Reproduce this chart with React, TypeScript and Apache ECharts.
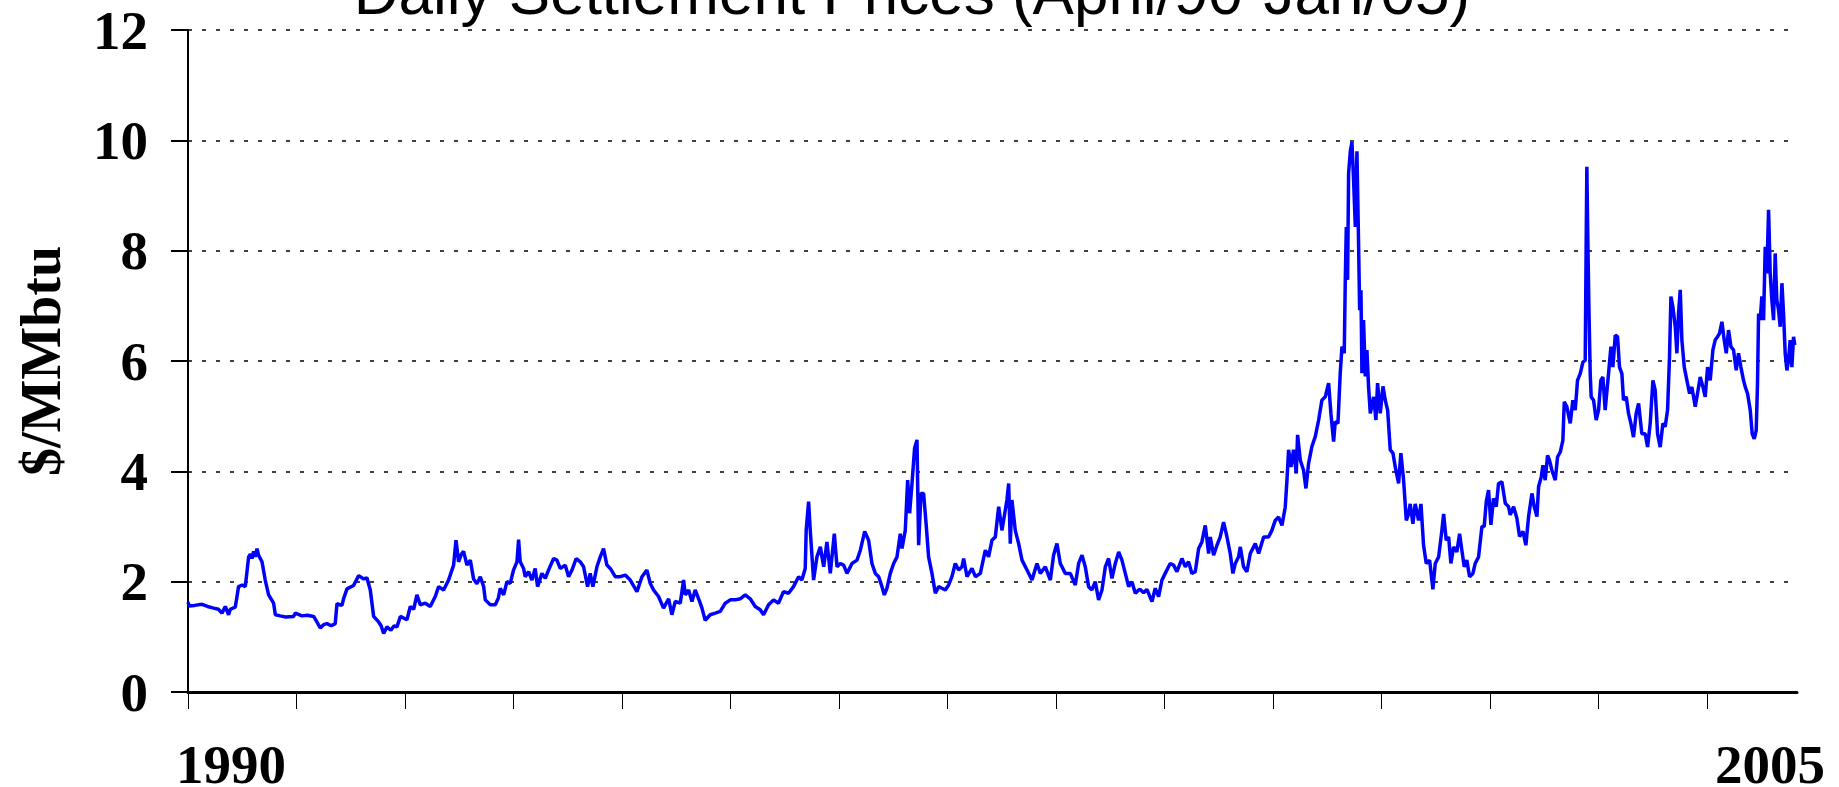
import React, { useEffect, useRef } from "react";
import * as echarts from "echarts";

// x = years since April 1990, y = $/MMbtu
const prices1990to1993: [number, number][] = [
  [0, 1.63], [0.012, 1.56], [0.06, 1.57], [0.129, 1.59], [0.18, 1.55], [0.236, 1.52], [0.28, 1.5],
  [0.313, 1.43], [0.344, 1.55], [0.374, 1.4], [0.39, 1.5], [0.436, 1.54], [0.466, 1.91], [0.5, 1.94],
  [0.528, 1.91], [0.559, 2.45], [0.575, 2.5], [0.59, 2.42], [0.605, 2.55], [0.62, 2.45], [0.636, 2.6],
  [0.65, 2.48], [0.682, 2.36], [0.712, 2.03], [0.743, 1.76], [0.789, 1.61], [0.805, 1.4], [0.85, 1.38],
  [0.9, 1.36], [0.973, 1.37], [0.989, 1.43], [1.05, 1.38], [1.1, 1.39], [1.158, 1.37], [1.188, 1.27],
  [1.219, 1.16], [1.25, 1.22], [1.28, 1.24], [1.32, 1.2], [1.357, 1.24], [1.373, 1.6], [1.419, 1.57],
  [1.434, 1.69], [1.465, 1.87], [1.526, 1.93], [1.573, 2.11], [1.62, 2.05], [1.649, 2.07], [1.68, 1.85],
  [1.711, 1.37], [1.757, 1.27], [1.78, 1.2], [1.803, 1.06], [1.834, 1.18], [1.87, 1.12], [1.9, 1.2],
  [1.926, 1.18], [1.957, 1.37], [2.018, 1.31], [2.049, 1.55], [2.08, 1.5], [2.11, 1.76], [2.141, 1.58],
  [2.187, 1.61], [2.233, 1.55], [2.279, 1.73], [2.31, 1.91], [2.356, 1.85], [2.402, 2.03], [2.448, 2.3],
  [2.47, 2.75], [2.494, 2.36], [2.52, 2.5], [2.54, 2.55], [2.571, 2.3], [2.602, 2.39], [2.632, 2.05],
  [2.663, 1.96], [2.694, 2.09], [2.725, 1.91], [2.74, 1.67], [2.786, 1.58], [2.832, 1.58], [2.86, 1.7],
];

const prices1993to1996: [number, number][] = [
  [2.878, 1.88], [2.909, 1.76], [2.94, 2.0], [2.97, 1.97], [3.0, 2.21], [3.032, 2.36], [3.047, 2.76],
  [3.062, 2.36], [3.093, 2.24], [3.108, 2.09], [3.139, 2.18], [3.17, 2.03], [3.2, 2.24], [3.222, 1.91],
  [3.262, 2.15], [3.293, 2.06], [3.323, 2.21], [3.37, 2.42], [3.4, 2.39], [3.431, 2.24], [3.477, 2.3],
  [3.508, 2.09], [3.539, 2.21], [3.578, 2.42], [3.615, 2.36], [3.646, 2.27], [3.683, 1.91], [3.707, 2.15],
  [3.732, 1.91], [3.769, 2.27], [3.8, 2.45], [3.83, 2.6], [3.861, 2.3], [3.892, 2.24], [3.938, 2.09],
  [3.984, 2.09], [4.03, 2.12], [4.076, 2.03], [4.138, 1.82], [4.184, 2.09], [4.23, 2.21], [4.26, 1.97],
  [4.291, 1.85], [4.337, 1.73], [4.383, 1.52], [4.43, 1.69], [4.46, 1.4], [4.491, 1.64], [4.537, 1.61],
  [4.568, 2.03], [4.583, 1.76], [4.614, 1.85], [4.645, 1.64], [4.675, 1.85], [4.721, 1.61], [4.737, 1.52],
  [4.767, 1.3], [4.813, 1.4], [4.86, 1.43], [4.906, 1.46], [4.952, 1.61], [4.998, 1.67], [5.044, 1.67],
  [5.09, 1.69], [5.136, 1.76], [5.182, 1.69], [5.228, 1.55], [5.274, 1.49], [5.305, 1.4], [5.351, 1.58],
  [5.397, 1.67], [5.443, 1.61], [5.489, 1.82], [5.535, 1.79], [5.581, 1.91], [5.628, 2.09], [5.658, 2.03],
  [5.689, 2.24], [5.698, 2.94], [5.72, 3.45], [5.735, 2.94], [5.766, 2.03], [5.797, 2.45],
];

const prices1996to1999: [number, number][] = [
  [5.828, 2.63], [5.859, 2.27], [5.889, 2.72], [5.92, 2.15], [5.957, 2.87], [5.982, 2.27], [6.012, 2.33],
  [6.043, 2.3], [6.074, 2.15], [6.12, 2.33], [6.166, 2.39], [6.197, 2.57], [6.237, 2.91], [6.273, 2.75],
  [6.304, 2.33], [6.335, 2.15], [6.366, 2.09], [6.396, 1.91], [6.418, 1.76], [6.442, 1.88], [6.473, 2.15],
  [6.504, 2.33], [6.535, 2.45], [6.565, 2.87], [6.581, 2.6], [6.611, 2.93], [6.633, 3.84], [6.651, 3.24],
  [6.673, 3.78], [6.697, 4.42], [6.719, 4.57], [6.734, 2.66], [6.756, 3.6], [6.78, 3.6], [6.805, 3.0],
  [6.826, 2.45], [6.857, 2.15], [6.888, 1.79], [6.919, 1.91], [6.949, 1.88], [6.98, 1.85], [7.011, 1.94],
  [7.041, 2.09], [7.072, 2.33], [7.103, 2.21], [7.134, 2.27], [7.149, 2.42], [7.18, 2.09], [7.226, 2.24],
  [7.257, 2.09], [7.303, 2.15], [7.349, 2.57], [7.379, 2.45], [7.41, 2.75], [7.441, 2.81], [7.472, 3.36],
  [7.502, 2.93], [7.533, 3.3], [7.548, 3.48], [7.564, 3.78], [7.579, 2.69], [7.594, 3.48], [7.625, 2.93],
  [7.656, 2.69], [7.687, 2.39], [7.733, 2.21], [7.779, 2.03], [7.825, 2.33], [7.856, 2.15], [7.902, 2.27],
  [7.948, 2.03], [7.978, 2.48], [8.009, 2.69], [8.04, 2.33], [8.086, 2.15], [8.132, 2.15], [8.178, 1.94],
  [8.209, 2.33], [8.24, 2.48], [8.27, 2.27], [8.301, 1.91], [8.332, 1.85], [8.362, 2.0], [8.393, 1.67],
  [8.424, 1.85], [8.455, 2.27], [8.485, 2.42], [8.516, 2.06], [8.547, 2.33], [8.578, 2.54], [8.608, 2.39],
  [8.639, 2.15], [8.67, 1.91], [8.7, 2.0], [8.731, 1.79], [8.762, 1.85],
];

const prices1999to2002: [number, number][] = [
  [8.777, 1.86], [8.808, 1.8], [8.838, 1.86], [8.885, 1.64], [8.915, 1.88], [8.946, 1.73], [8.977, 2.03],
  [9.007, 2.15], [9.053, 2.33], [9.084, 2.3], [9.115, 2.18], [9.161, 2.42], [9.192, 2.27], [9.222, 2.36],
  [9.253, 2.15], [9.284, 2.18], [9.315, 2.6], [9.345, 2.72], [9.376, 3.02], [9.407, 2.51], [9.422, 2.81],
  [9.453, 2.48], [9.484, 2.66], [9.514, 2.81], [9.545, 3.08], [9.576, 2.81], [9.606, 2.51], [9.631, 2.15],
  [9.653, 2.33], [9.683, 2.45], [9.699, 2.63], [9.729, 2.27], [9.76, 2.18], [9.791, 2.51], [9.837, 2.69],
  [9.868, 2.51], [9.914, 2.81], [9.96, 2.81], [9.99, 2.93], [10.021, 3.11], [10.052, 3.17], [10.083, 3.02],
  [10.113, 3.35], [10.129, 3.84], [10.144, 4.39], [10.166, 4.08], [10.19, 4.39], [10.215, 3.96],
  [10.227, 4.66], [10.252, 4.2], [10.282, 4.02], [10.304, 3.69], [10.328, 4.14], [10.359, 4.45],
  [10.39, 4.63], [10.421, 4.93], [10.451, 5.29], [10.482, 5.35], [10.513, 5.6], [10.534, 5.05],
  [10.559, 4.54], [10.574, 4.9], [10.599, 4.87], [10.62, 5.78], [10.636, 6.26], [10.657, 6.14],
  [10.666, 7.41], [10.676, 8.43], [10.688, 7.47], [10.697, 9.4], [10.713, 9.8], [10.728, 9.97],
  [10.743, 9.28], [10.759, 8.43], [10.774, 9.8], [10.789, 8.13], [10.799, 6.92], [10.811, 7.28],
  [10.82, 5.78], [10.835, 6.74], [10.851, 5.72], [10.866, 6.2], [10.881, 5.54], [10.897, 5.05],
  [10.928, 5.35], [10.949, 4.93], [10.964, 5.6], [10.989, 5.05], [11.014, 5.54], [11.035, 5.29],
  [11.057, 5.11], [11.081, 4.39], [11.106, 4.33], [11.127, 4.08], [11.158, 3.78], [11.179, 4.33],
  [11.204, 3.84], [11.229, 3.11], [11.25, 3.23], [11.265, 3.41], [11.29, 3.05], [11.311, 3.41],
  [11.342, 3.11], [11.364, 3.41], [11.388, 2.66], [11.413, 2.33], [11.444, 2.39], [11.474, 1.86],
  [11.496, 2.33], [11.527, 2.45], [11.557, 2.93], [11.573, 3.23], [11.597, 2.75], [11.619, 2.81],
  [11.64, 2.33], [11.665, 2.63], [11.695, 2.54], [11.72, 2.87],
];

const prices2002to2005: [number, number][] = [
  [11.741, 2.57], [11.763, 2.27], [11.787, 2.39], [11.812, 2.09], [11.843, 2.15], [11.864, 2.33],
  [11.895, 2.45], [11.926, 3.0], [11.947, 3.0], [11.966, 3.45], [11.987, 3.66], [12.009, 3.03],
  [12.033, 3.51], [12.058, 3.36], [12.079, 3.78], [12.11, 3.81], [12.141, 3.42], [12.171, 3.36],
  [12.187, 3.21], [12.218, 3.36], [12.248, 3.15], [12.273, 2.82], [12.304, 2.91], [12.331, 2.66],
  [12.356, 3.18], [12.387, 3.6], [12.408, 3.36], [12.433, 3.18], [12.448, 3.72], [12.473, 3.9],
  [12.488, 4.11], [12.509, 3.84], [12.531, 4.29], [12.549, 4.2], [12.571, 4.02], [12.602, 3.84],
  [12.623, 4.26], [12.648, 4.35], [12.672, 4.56], [12.685, 5.26], [12.709, 5.17], [12.74, 4.87],
  [12.764, 5.29], [12.786, 5.11], [12.807, 5.65], [12.832, 5.77], [12.857, 5.98], [12.878, 6.01],
  [12.887, 8.19], [12.893, 9.52], [12.903, 8.07], [12.912, 6.98], [12.924, 5.77], [12.933, 5.35],
  [12.955, 5.29], [12.979, 4.93], [13.001, 5.11], [13.022, 5.65], [13.041, 5.71], [13.062, 5.11],
  [13.093, 5.77], [13.115, 6.26], [13.133, 5.89], [13.155, 6.47], [13.176, 6.44], [13.194, 5.89],
  [13.216, 5.77], [13.231, 5.29], [13.256, 5.35], [13.277, 5.05], [13.299, 4.87], [13.323, 4.62],
  [13.348, 5.05], [13.37, 5.23], [13.4, 4.68], [13.431, 4.68], [13.453, 4.44], [13.477, 4.87],
  [13.502, 5.65], [13.523, 5.47], [13.545, 4.68], [13.569, 4.44], [13.594, 4.87], [13.615, 4.81],
  [13.637, 5.11], [13.655, 6.08], [13.668, 7.17], [13.686, 6.98], [13.708, 6.62], [13.723, 6.14],
  [13.738, 6.86], [13.754, 7.29], [13.769, 6.38], [13.791, 5.89], [13.815, 5.65], [13.84, 5.41],
  [13.861, 5.53], [13.892, 5.17], [13.913, 5.41], [13.938, 5.71], [13.963, 5.53], [13.984, 5.35],
  [14.006, 5.89], [14.03, 5.65], [14.055, 6.2], [14.076, 6.38], [14.098, 6.44], [14.116, 6.5],
  [14.138, 6.71], [14.159, 6.38], [14.178, 6.14], [14.199, 6.56], [14.221, 6.26], [14.245, 6.2],
  [14.27, 5.83], [14.291, 6.14], [14.313, 5.89], [14.337, 5.65], [14.353, 5.53], [14.374, 5.41],
  [14.399, 5.11], [14.417, 4.68], [14.436, 4.59], [14.454, 4.74], [14.466, 5.59], [14.476, 6.86],
  [14.491, 6.74], [14.506, 7.17], [14.522, 6.74], [14.537, 8.07], [14.552, 7.59], [14.568, 8.74],
  [14.583, 7.59], [14.598, 7.11], [14.614, 6.74], [14.629, 7.95], [14.644, 7.11], [14.66, 6.92],
  [14.675, 6.62], [14.691, 7.41], [14.706, 6.86], [14.721, 6.14], [14.737, 5.83], [14.752, 6.02],
  [14.767, 6.38], [14.783, 5.89], [14.798, 6.44], [14.81, 6.29],
];

const yTicks = { min: 0, max: 12, interval: 2 };
const xRange = { min: 0, max: 14.83, interval: 1 };
const yearTicks = [0, 1, 2, 3, 4, 5, 6, 7, 8, 9, 10, 11, 12, 13, 14];
const titleText = "Daily Settlement Prices (April/90-Jan/05)";
const yAxisTitle = "$/MMbtu";
const startYearLabel = "1990";
const endYearLabel = "2005";

export default function App() {
  const ref = useRef<HTMLDivElement>(null);
  useEffect(() => {
    document.body.style.margin = "0";
    if (!ref.current) return;
    const chart = echarts.init(ref.current, null, { renderer: "svg" });
    const serif = '"Liberation Serif", "Times New Roman", serif';
    const data = [
      ...prices1990to1993,
      ...prices1993to1996,
      ...prices1996to1999,
      ...prices1999to2002,
      ...prices2002to2005,
    ];
    chart.setOption({
      animation: false,
      backgroundColor: "#ffffff",
      grid: { left: 188, right: 42, top: 30, bottom: 95, containLabel: false },
      xAxis: {
        type: "value",
        min: xRange.min,
        max: xRange.max,
        interval: xRange.interval,
        axisLine: { show: true, onZero: false, lineStyle: { color: "#000", width: 3 } },
        axisTick: {
          show: true,
          inside: false,
          length: 17,
          customValues: yearTicks,
          lineStyle: { color: "#000", width: 1 },
        },
        axisLabel: { show: false },
        splitLine: { show: false },
      },
      yAxis: {
        type: "value",
        min: yTicks.min,
        max: yTicks.max,
        interval: yTicks.interval,
        name: yAxisTitle,
        nameLocation: "middle",
        nameRotate: 90,
        nameGap: 119,
        nameTextStyle: { fontFamily: serif, fontWeight: "bold", fontSize: 56, color: "#000" },
        axisLine: { show: true, lineStyle: { color: "#000", width: 2 } },
        axisTick: { show: true, inside: false, length: 17, lineStyle: { color: "#000", width: 2 } },
        axisLabel: { fontFamily: serif, fontWeight: "bold", fontSize: 55, color: "#000", margin: 40 },
        splitLine: { show: true, lineStyle: { color: "#000", width: 1.6, type: [4, 10] } },
      },
      graphic: [
        {
          type: "text",
          x: 912,
          y: -8,
          style: {
            text: titleText,
            font: '62px "Liberation Sans", Arial, sans-serif',
            fill: "#000",
            align: "center",
            verticalAlign: "middle",
          },
        },
        {
          type: "text",
          x: 231,
          y: 764,
          style: {
            text: startYearLabel,
            font: 'bold 55px "Liberation Serif", "Times New Roman", serif',
            lineHeight: 40,
            fill: "#000",
            align: "center",
            verticalAlign: "middle",
          },
        },
        {
          type: "text",
          x: 1770,
          y: 764,
          style: {
            text: endYearLabel,
            font: 'bold 55px "Liberation Serif", "Times New Roman", serif',
            lineHeight: 40,
            fill: "#000",
            align: "center",
            verticalAlign: "middle",
          },
        },
      ],
      series: [
        {
          type: "line",
          data,
          showSymbol: false,
          symbol: "none",
          smooth: false,
          lineStyle: { color: "#0000ff", width: 3.5 },
          itemStyle: { color: "#0000ff" },
          clip: true,
        },
      ],
    });
    return () => chart.dispose();
  }, []);
  return (
    <div
      ref={ref}
      style={{ position: "absolute", left: 0, top: 0, width: 1839, height: 787 }}
    />
  );
}
